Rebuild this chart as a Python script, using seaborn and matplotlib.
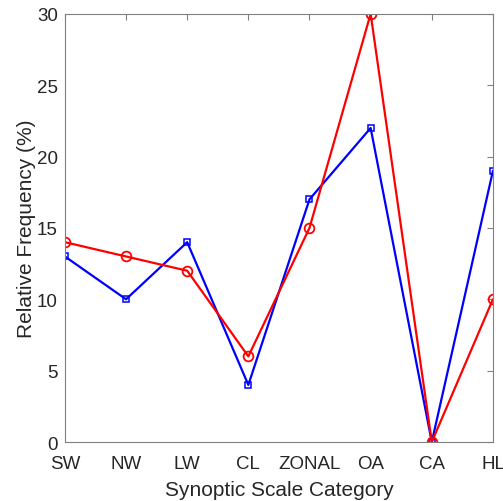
import matplotlib
matplotlib.use('Agg')
import matplotlib.pyplot as plt
import pandas as pd
import seaborn as sns

categories = ['SW', 'NW', 'LW', 'CL', 'ZONAL', 'OA', 'CA', 'HL']
blue_vals = [13, 10, 14, 4, 17, 22, 0, 19]
red_vals = [14, 13, 12, 6, 15, 30, 0, 10]

df = pd.DataFrame({'x': list(range(len(categories))), 'blue': blue_vals, 'red': red_vals})

sns.set_style('white')
plt.rcParams['font.family'] = ['Liberation Sans', 'DejaVu Sans']

fig = plt.figure(figsize=(5.03, 5.02), dpi=100)
ax = fig.add_axes([0.129, 0.1175, 0.851, 0.853])

sns.lineplot(data=df, x='x', y='blue', ax=ax, color='#0000ff', marker='s', markersize=5,
             markerfacecolor='none', markeredgecolor='#0000ff', markeredgewidth=1.1, linewidth=1.6)
sns.lineplot(data=df, x='x', y='red', ax=ax, color='#ff0000', marker='o', markersize=7,
             markerfacecolor='none', markeredgecolor='#ff0000', markeredgewidth=1.3, linewidth=1.6)

ax.set_xlim(0, 7)
ax.set_ylim(0, 30)
ax.set_xticks(range(len(categories)))
ax.set_xticklabels(categories)
ax.set_yticks([0, 5, 10, 15, 20, 25, 30])
ax.tick_params(direction='in', length=4, width=0.8, color='#808080', labelsize=13.5,
               labelcolor='#262626', top=True, right=True)
ax.tick_params(axis='x', pad=9)
ax.tick_params(axis='y', pad=5)
for s in ax.spines.values():
    s.set_color('#808080')
    s.set_linewidth(0.8)
ax.set_xlabel('Synoptic Scale Category', fontsize=15, color='#262626', labelpad=6)
ax.set_ylabel('Relative Frequency (%)', fontsize=15, color='#262626', labelpad=1)

fig.savefig('out.png', dpi=100)
